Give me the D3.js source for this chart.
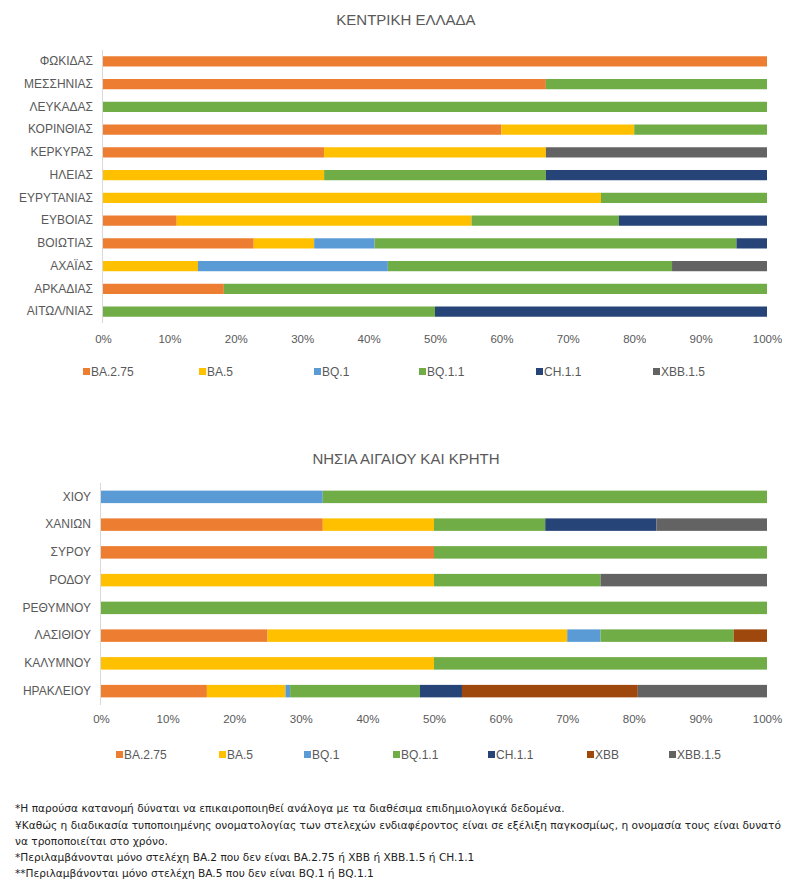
<!DOCTYPE html>
<html><head><meta charset="utf-8">
<script src="https://cdn.jsdelivr.net/npm/d3@7"></script>
<style>
body{margin:0;background:#fff;}
svg text{font-family:"Liberation Sans",Arial,sans-serif;}
.foot{font-family:"DejaVu Sans",sans-serif;}
</style></head>
<body><svg id="c" width="800" height="885"></svg>
<script>
const seriesKeysTop = ["BA.2.75","BA.5","BQ.1","BQ.1.1","CH.1.1","XBB.1.5"];
const seriesKeysBottom = ["BA.2.75","BA.5","BQ.1","BQ.1.1","CH.1.1","XBB","XBB.1.5"];
const colorMap = {"BA.2.75":"#ED7D31","BA.5":"#FFC000","BQ.1":"#5B9BD5","BQ.1.1":"#70AD47","CH.1.1":"#264478","XBB":"#9E480E","XBB.1.5":"#636363"};

const topRegions = ["ΦΩΚΙΔΑΣ","ΜΕΣΣΗΝΙΑΣ","ΛΕΥΚΑΔΑΣ","ΚΟΡΙΝΘΙΑΣ","ΚΕΡΚΥΡΑΣ","ΗΛΕΙΑΣ","ΕΥΡΥΤΑΝΙΑΣ","ΕΥΒΟΙΑΣ","ΒΟΙΩΤΙΑΣ","ΑΧΑΪΑΣ","ΑΡΚΑΔΙΑΣ","ΑΙΤΩΛ/ΝΙΑΣ"];
const topBA275 = [100, 66.7, 0, 60, 33.3, 0, 0, 11.1, 22.7, 0, 18.2, 0];
const topBA5   = [0, 0, 0, 20, 33.4, 33.3, 75, 44.4, 9.1, 14.3, 0, 0];
const topBQ1   = [0, 0, 0, 0, 0, 0, 0, 0, 9.1, 28.6, 0, 0];
const topBQ11  = [0, 33.3, 100, 20, 0, 33.4, 25, 22.2, 54.5, 42.8, 81.8, 50];
const topCH11  = [0, 0, 0, 0, 0, 33.3, 0, 22.3, 4.6, 0, 0, 50];
const topXBB15 = [0, 0, 0, 0, 33.3, 0, 0, 0, 0, 14.3, 0, 0];

const bottomRegions = ["ΧΙΟΥ","ΧΑΝΙΩΝ","ΣΥΡΟΥ","ΡΟΔΟΥ","ΡΕΘΥΜΝΟΥ","ΛΑΣΙΘΙΟΥ","ΚΑΛΥΜΝΟΥ","ΗΡΑΚΛΕΙΟΥ"];
const botBA275 = [0, 33.3, 50, 0, 0, 25, 0, 15.9];
const botBA5   = [0, 16.7, 0, 50, 0, 45, 50, 11.8];
const botBQ1   = [33.3, 0, 0, 0, 0, 5, 0, 0.7];
const botBQ11  = [66.7, 16.7, 50, 25, 100, 20, 50, 19.5];
const botCH11  = [0, 16.7, 0, 0, 0, 0, 0, 6.3];
const botXBB   = [0, 0, 0, 0, 0, 5, 0, 26.4];
const botXBB15 = [0, 16.6, 0, 25, 0, 0, 0, 19.4];

const xTicks = [0,10,20,30,40,50,60,70,80,90,100];

const footnotes = [
 "*Η παρούσα κατανομή δύναται να επικαιροποιηθεί ανάλογα με τα διαθέσιμα επιδημιολογικά δεδομένα.",
 "¥Καθώς η διαδικασία τυποποιημένης ονοματολογίας των στελεχών ενδιαφέροντος είναι σε εξέλιξη παγκοσμίως, η ονομασία τους είναι δυνατό",
 "να τροποποιείται στο χρόνο.",
 "*Περιλαμβάνονται μόνο στελέχη BA.2 που δεν είναι BA.2.75 ή XBB ή XBB.1.5 ή CH.1.1",
 "**Περιλαμβάνονται μόνο στελέχη BA.5 που δεν είναι BQ.1 ή BQ.1.1"
];

const topTable = topRegions.map((r,i)=>({region:r,"BA.2.75":topBA275[i],"BA.5":topBA5[i],"BQ.1":topBQ1[i],"BQ.1.1":topBQ11[i],"CH.1.1":topCH11[i],"XBB.1.5":topXBB15[i]}));
const botTable = bottomRegions.map((r,i)=>({region:r,"BA.2.75":botBA275[i],"BA.5":botBA5[i],"BQ.1":botBQ1[i],"BQ.1.1":botBQ11[i],"CH.1.1":botCH11[i],"XBB":botXBB[i],"XBB.1.5":botXBB15[i]}));

const svg = d3.select("#c");

function drawChart(cfg){
  const g = svg.append("g");
  const x = d3.scaleLinear().domain([0,100]).range([cfg.x0, cfg.x1]).clamp(true);
  const y = d3.scaleBand().domain(cfg.data.map(d=>d.region)).range([cfg.y0, cfg.y1]).paddingInner(cfg.pad).paddingOuter(cfg.pad/2);
  g.append("text").attr("x", cfg.titleX).attr("y", cfg.titleY).attr("text-anchor","middle")
    .attr("fill","#595959").style("font-size","15px").text(cfg.title);
  g.append("line").attr("x1",cfg.x0-0.5).attr("x2",cfg.x0-0.5).attr("y1",cfg.y0).attr("y2",cfg.y1).attr("stroke","#d9d9d9").attr("stroke-width",1);
  const stack = d3.stack().keys(cfg.keys)(cfg.data);
  g.selectAll("g.s").data(stack).join("g").attr("fill",d=>colorMap[d.key])
    .selectAll("rect").data(d=>d).join("rect")
    .attr("x",d=>x(d[0])).attr("width",d=>Math.max(0,x(d[1])-x(d[0])))
    .attr("y",d=>y(d.data.region)).attr("height",y.bandwidth());
  const ya = d3.axisLeft(y).tickSize(0).tickPadding(10);
  const yg = g.append("g").attr("transform",`translate(${cfg.x0},0)`).call(ya);
  yg.select(".domain").remove();
  yg.selectAll("text").attr("fill","#595959").style("font-size","12px");
  const xa = d3.axisBottom(x).tickValues(xTicks).tickFormat(d=>d+"%").tickSize(0).tickPadding(0);
  const xg = g.append("g").attr("transform",`translate(0,${cfg.tickY})`).call(xa);
  xg.select(".domain").remove();
  xg.selectAll("text").attr("fill","#595959").style("font-size","11.5px");
  const lg = g.append("g").attr("transform",`translate(0,${cfg.legY})`);
  const li = lg.selectAll("g").data(cfg.keys).join("g").attr("transform",(d,i)=>`translate(${cfg.legX[i]},0)`);
  li.append("rect").attr("x",0).attr("y",-4).attr("width",7).attr("height",7).attr("fill",d=>colorMap[d]);
  li.append("text").attr("x",8).attr("y",0).attr("dy","0.35em").attr("fill","#595959").style("font-size","12px").text(d=>d);
}

drawChart({data:topTable, keys:seriesKeysTop, title:"ΚΕΝΤΡΙΚΗ ΕΛΛΑΔΑ", titleX:406, titleY:25,
  x0:103, x1:767, y0:50, y1:323, pad:0.55, tickY:335, legY:372, legX:[83,199,314,419,536,653]});
drawChart({data:botTable, keys:seriesKeysBottom, title:"ΝΗΣΙΑ ΑΙΓΑΙΟΥ ΚΑΙ ΚΡΗΤΗ", titleX:406, titleY:464,
  x0:101, x1:767, y0:483, y1:705, pad:0.55, tickY:715, legY:755, legX:[116,219,304,393,488,587,669]});

svg.append("g").selectAll("text").data(footnotes).join("text").attr("class","foot")
  .attr("x",15).attr("y",(d,i)=>[812,829,845,861,877][i]).attr("fill","#222").style("font-size","10.6px").text(d=>d);
</script></body></html>
